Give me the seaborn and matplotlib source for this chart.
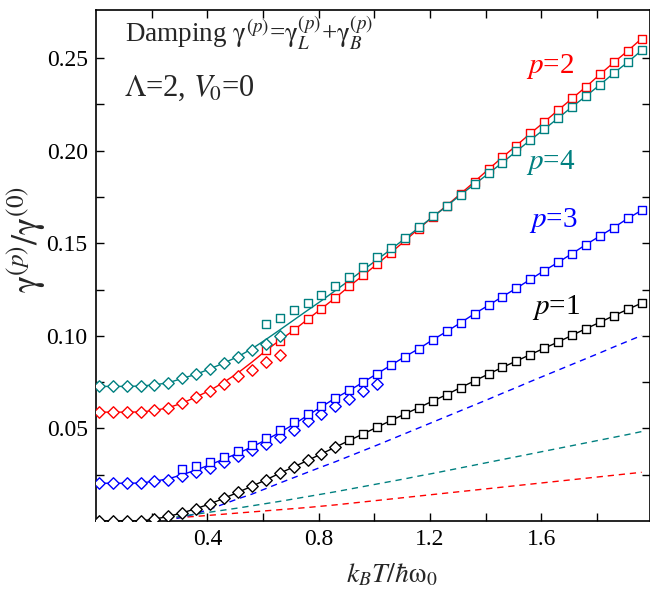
import numpy as np
import pandas as pd
import matplotlib
matplotlib.use("Agg")
import matplotlib.pyplot as plt
import seaborn as sns
from matplotlib.ticker import FixedLocator

sns.set_style("ticks")
plt.rcParams['font.family'] = ['Liberation Serif', 'DejaVu Serif']
plt.rcParams['mathtext.fontset'] = 'stix'

# temperature grid  k_B T / hbar w0
T = [0.01, 0.06, 0.11, 0.16, 0.21, 0.26, 0.31, 0.36, 0.41, 0.46,
     0.51, 0.56, 0.61, 0.66, 0.71, 0.76, 0.81, 0.86, 0.91, 0.96,
     1.01, 1.06, 1.11, 1.16, 1.21, 1.26, 1.31, 1.36, 1.41, 1.46,
     1.51, 1.56, 1.61, 1.66, 1.71, 1.76, 1.81, 1.86, 1.91, 1.96]

# solid curves
p1_line = [0, 0, 0, 0, 0.0010, 0.0025, 0.0044, 0.0067, 0.0093, 0.0123,
           0.0155, 0.0188, 0.0222, 0.0258, 0.0292, 0.0327, 0.0363, 0.0399, 0.0435, 0.0471,
           0.0507, 0.0543, 0.0578, 0.0613, 0.0648, 0.0683, 0.0721, 0.0757, 0.0794, 0.0830,
           0.0864, 0.0899, 0.0933, 0.0967, 0.1003, 0.1039, 0.1073, 0.1109, 0.1143, 0.1177]
p3_line = [0.0204, 0.0204, 0.0204, 0.0205, 0.0215, 0.0228, 0.0250, 0.0276, 0.0304, 0.0335,
           0.0366, 0.0400, 0.0438, 0.0478, 0.0522, 0.0570, 0.0617, 0.0664, 0.0705, 0.0750,
           0.0796, 0.0842, 0.0888, 0.0931, 0.0979, 0.1024, 0.1071, 0.1120, 0.1165, 0.1212,
           0.1257, 0.1305, 0.1352, 0.1397, 0.1444, 0.1493, 0.1539, 0.1585, 0.1634, 0.1678]
p2_line = [0.0588, 0.0588, 0.0588, 0.0589, 0.0597, 0.0612, 0.0637, 0.0670, 0.0706, 0.0750,
           0.0800, 0.0858, 0.0920, 0.0976, 0.1030, 0.1089, 0.1147, 0.1206, 0.1268, 0.1327,
           0.1388, 0.1450, 0.1514, 0.1580, 0.1643, 0.1704, 0.1768, 0.1833, 0.1900, 0.1965,
           0.2028, 0.2093, 0.2155, 0.2219, 0.2282, 0.2345, 0.2412, 0.2477, 0.2539, 0.2606]
p4_line = [0.0727, 0.0727, 0.0727, 0.0729, 0.0735, 0.0747, 0.0770, 0.0793, 0.0822, 0.0854,
           0.0888, 0.0930, 0.0980, 0.1032, 0.1085, 0.1138, 0.1190, 0.1245, 0.1300, 0.1356,
           0.1412, 0.1468, 0.1526, 0.1585, 0.1643, 0.1700, 0.1763, 0.1819, 0.1877, 0.1936,
           0.1997, 0.2057, 0.2116, 0.2176, 0.2237, 0.2295, 0.2356, 0.2419, 0.2478, 0.2542]

# diamond markers (low T), starting at T[0]
p1_dia = [0, 0, 0, 0, 0.0010, 0.0025, 0.0044, 0.0067, 0.0093, 0.0123,
          0.0155, 0.0188, 0.0222, 0.0258, 0.0292, 0.0327, 0.0363, 0.0399]
p3_dia = [0.0204, 0.0204, 0.0204, 0.0205, 0.0215, 0.0224, 0.0242, 0.0264, 0.0288, 0.0318,
          0.0349, 0.0381, 0.0417, 0.0453, 0.0489, 0.0538, 0.0580, 0.0621, 0.0660, 0.0700, 0.0738]
p2_dia = [0.0588, 0.0588, 0.0588, 0.0589, 0.0597, 0.0610, 0.0637, 0.0669, 0.0702, 0.0741,
          0.0781, 0.0817, 0.0859, 0.0898]
p4_dia = [0.0727, 0.0727, 0.0727, 0.0729, 0.0736, 0.0747, 0.0772, 0.0792, 0.0822, 0.0853,
          0.0886, 0.0922, 0.0958, 0.0997]

# square markers (high T), ending at T[-1]
p1_sq = [0.0435, 0.0471, 0.0507, 0.0543, 0.0578, 0.0613, 0.0648, 0.0683, 0.0721, 0.0757,
         0.0794, 0.0830, 0.0864, 0.0899, 0.0933, 0.0967, 0.1003, 0.1039, 0.1073, 0.1109,
         0.1143, 0.1177]
p3_sq = [0.0282, 0.0295, 0.0318, 0.0345, 0.0377, 0.0412, 0.0450, 0.0489, 0.0534, 0.0579,
         0.0621, 0.0664, 0.0705, 0.0750, 0.0796, 0.0842, 0.0888, 0.0931, 0.0979, 0.1024,
         0.1071, 0.1120, 0.1165, 0.1212, 0.1257, 0.1305, 0.1352, 0.1397, 0.1444, 0.1493,
         0.1539, 0.1585, 0.1634, 0.1678]
p2_sq = [0.0922, 0.0974, 0.1030, 0.1089, 0.1147, 0.1206, 0.1268, 0.1327, 0.1388, 0.1450,
         0.1516, 0.1577, 0.1642, 0.1703, 0.1768, 0.1833, 0.1900, 0.1965, 0.2028, 0.2093,
         0.2155, 0.2219, 0.2282, 0.2345, 0.2412, 0.2477, 0.2539, 0.2606]
p4_sq = [0.1062, 0.1096, 0.1137, 0.1178, 0.1223, 0.1271, 0.1320, 0.1372, 0.1426, 0.1477,
         0.1531, 0.1588, 0.1646, 0.1702, 0.1763, 0.1819, 0.1877, 0.1936, 0.1997, 0.2057,
         0.2116, 0.2176, 0.2237, 0.2295, 0.2356, 0.2419, 0.2478, 0.2542]

# dashed curves, ending at T[-1]
p3_dash = [0.0, 0.0005, 0.0020, 0.0040, 0.0065, 0.0092, 0.0120, 0.0145, 0.0175, 0.0205,
           0.0234, 0.0263, 0.0292, 0.0320, 0.0350, 0.0380, 0.0410, 0.0441, 0.0472, 0.0503,
           0.0534, 0.0565, 0.0596, 0.0627, 0.0658, 0.0690, 0.0721, 0.0753, 0.0784, 0.0815,
           0.0846, 0.0877, 0.0908, 0.0940, 0.0971, 0.1002]
p4_dash = [0.0, 0.0015, 0.0026, 0.0037, 0.0048, 0.0059, 0.0070, 0.0082, 0.0094, 0.0106,
           0.0119, 0.0132, 0.0145, 0.0158, 0.0172, 0.0186, 0.0200, 0.0214, 0.0228, 0.0243,
           0.0257, 0.0272, 0.0287, 0.0302, 0.0317, 0.0332, 0.0347, 0.0362, 0.0377, 0.0392,
           0.0407, 0.0422, 0.0437, 0.0452, 0.0467, 0.0483]
p2_dash = [0.0, 0.0012, 0.0020, 0.0025, 0.0031, 0.0037, 0.0043, 0.0049, 0.0055, 0.0061,
           0.0067, 0.0073, 0.0080, 0.0087, 0.0095, 0.0103, 0.0111, 0.0119, 0.0127, 0.0135,
           0.0143, 0.0151, 0.0159, 0.0167, 0.0175, 0.0183, 0.0191, 0.0199, 0.0207, 0.0215,
           0.0223, 0.0231, 0.0239, 0.0247, 0.0255, 0.0263]

labels = ["p=1", "p=2", "p=3", "p=4"]
colors = {"p=1": "#000000", "p=2": "#FF0000", "p=3": "#0000FF", "p=4": "#008080"}

series = {
    "p=1": (p1_line, p1_dia, p1_sq, None),
    "p=2": (p2_line, p2_dia, p2_sq, p2_dash),
    "p=3": (p3_line, p3_dia, p3_sq, p3_dash),
    "p=4": (p4_line, p4_dia, p4_sq, p4_dash),
}

fig = plt.figure(figsize=(6.5, 5.95), dpi=100)
ax = fig.add_axes([96 / 650, 1 - 521 / 595, 554 / 650, 511 / 595])

n = len(T)
for lab in labels:
    line, dia, sq, dash = series[lab]
    c = colors[lab]
    if dash is not None:
        sns.lineplot(x=T[n - len(dash):], y=dash, color=c, linewidth=1.0,
                     linestyle=(0, (4.5, 3.5)), ax=ax, estimator=None, sort=False, zorder=1)
    sns.lineplot(x=T, y=line, color=c, linewidth=1.0, ax=ax,
                 estimator=None, sort=False, zorder=2)
    sns.scatterplot(x=T[:len(dia)], y=dia, marker="D", s=34, color="white",
                    edgecolor=c, linewidth=1.0, ax=ax, zorder=3)
    sns.scatterplot(x=T[n - len(sq):], y=sq, marker="s", s=30, color="white",
                    edgecolor=c, linewidth=1.0, ax=ax, zorder=3)

ax.set_xlim(0, 1.99)
ax.set_ylim(0, 0.276)
ax.xaxis.set_major_locator(FixedLocator([0.4, 0.8, 1.2, 1.6]))
ax.xaxis.set_minor_locator(FixedLocator([0.2, 0.6, 1.0, 1.4, 1.8]))
ax.yaxis.set_major_locator(FixedLocator([0.05, 0.10, 0.15, 0.20, 0.25]))
ax.yaxis.set_minor_locator(FixedLocator([0.025, 0.075, 0.125, 0.175, 0.225]))
ax.set_xticklabels(["0.4", "0.8", "1.2", "1.6"])
ax.set_yticklabels(["0.05", "0.10", "0.15", "0.20", "0.25"])
ax.tick_params(which="both", direction="in", top=True, right=True, width=1.0,
               labelsize=17, pad=6, colors="black")
ax.tick_params(which="major", length=6)
ax.tick_params(which="minor", length=6)
for s in ax.spines.values():
    s.set_linewidth(1.2)
    s.set_color("black")
ax.set_xlabel("")
ax.set_ylabel("")

# annotations
ax.text(0.052, 0.935, r"Damping $\mathrm{\gamma}^{(p)}$=$\mathrm{\gamma}_L^{(p)}$+$\mathrm{\gamma}_B^{(p)}$",
        transform=ax.transAxes, fontsize=19.5, ha="left", va="baseline")
ax.text(0.050, 0.833, r"$\Lambda$=2, $V_{\!0}$=0", transform=ax.transAxes,
        fontsize=22, ha="left", va="baseline")

label_pos = {"p=2": (0.82, 0.89), "p=4": (0.82, 0.702), "p=3": (0.825, 0.588), "p=1": (0.83, 0.418)}
for lab in labels:
    x0, y0 = label_pos[lab]
    ax.text(x0, y0, r"$p$=" + lab.split("=")[1], transform=ax.transAxes,
            fontsize=21, color=colors[lab], ha="center", va="center")

fig.text(27 / 650, 1 - 240 / 595, r"$\mathrm{\gamma}^{(p)}/\mathrm{\gamma}^{(0)}$",
         rotation=90, fontsize=26, ha="center", va="center")
fig.text(392 / 650, 1 - 575 / 595, r"$k_BT/\hbar\mathrm{\omega}_0$",
         fontsize=20, ha="center", va="center")

fig.savefig("out.png", dpi=100)
